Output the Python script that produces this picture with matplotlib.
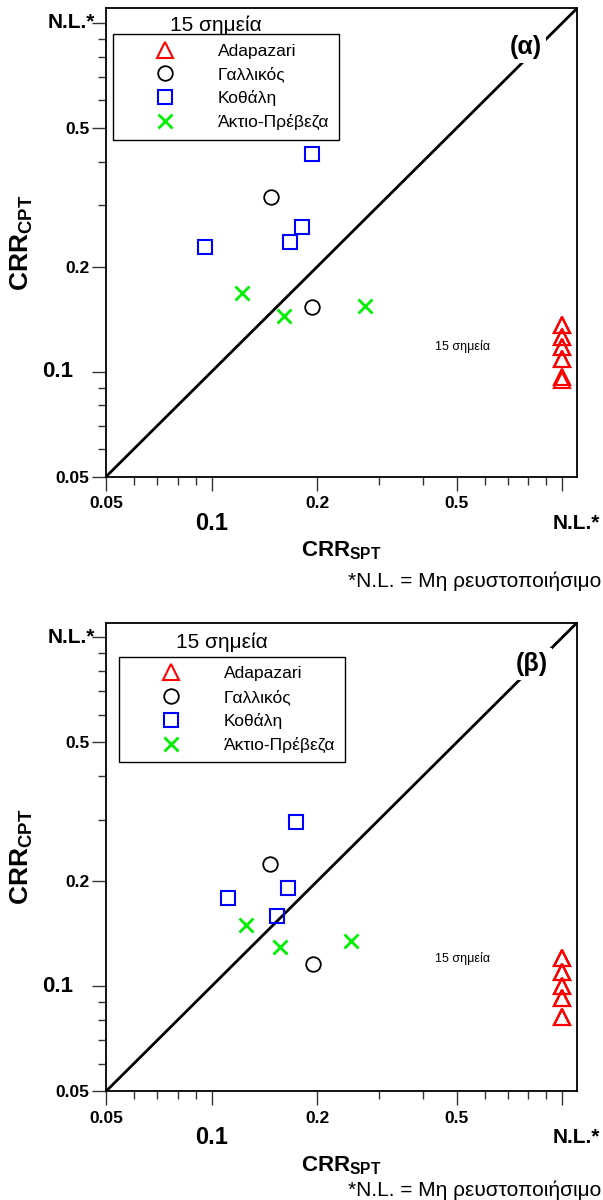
import matplotlib
matplotlib.use("Agg")
from matplotlib import pyplot as plt
from matplotlib.ticker import FixedLocator, FixedFormatter, LogLocator, NullFormatter

plt.rcParams['font.family'] = ['Liberation Sans', 'DejaVu Sans']
plt.rcParams['mathtext.fontset'] = 'custom'
plt.rcParams['mathtext.rm'] = 'Liberation Sans'
plt.rcParams['mathtext.bf'] = 'Liberation Sans:bold'

# N.L. (non liquefiable) is plotted at 1.0
NL = 1.0
ticks = [0.05, 0.1, 0.2, 0.5, NL]
tick_labels = ["0.05", "", "0.2", "0.5", ""]
names = ["Adapazari", "Γαλλικός", "Κοθάλη", "Άκτιο-Πρέβεζα"]

# panel (α)
adapazari_a_spt = [NL] * 15
adapazari_a_cpt = [0.136, 0.136, 0.136, 0.126, 0.126, 0.126, 0.118, 0.118,
                   0.118, 0.1085, 0.1085, 0.1085, 0.0964, 0.0964, 0.0946]
gallikos_a_spt = [0.148, 0.193]
gallikos_a_cpt = [0.316, 0.153]
kothali_a_spt = [0.193, 0.0958, 0.167, 0.181]
kothali_a_cpt = [0.42, 0.228, 0.235, 0.260]
aktio_a_spt = [0.122, 0.161, 0.274]
aktio_a_cpt = [0.168, 0.1446, 0.154]

# panel (β)
adapazari_b_spt = [NL] * 15
adapazari_b_cpt = [0.1203, 0.1203, 0.1203, 0.110, 0.110, 0.110, 0.1004, 0.1004,
                   0.1004, 0.0924, 0.0924, 0.0924, 0.0815, 0.0815, 0.0815]
gallikos_b_spt = [0.147, 0.194]
gallikos_b_cpt = [0.2235, 0.1156]
kothali_b_spt = [0.1745, 0.1655, 0.1111, 0.1538]
kothali_b_cpt = [0.295, 0.191, 0.1786, 0.1592]
aktio_b_spt = [0.1253, 0.157, 0.25]
aktio_b_cpt = [0.1498, 0.1294, 0.135]


def draw_panel(ax, data, tag, tag_pos, leg_pos, title_pos, note_y):
    ax.set_xscale("log")
    ax.set_yscale("log")
    ax.set_xlim(0.05, 1.1)
    ax.set_ylim(0.05, 1.1)

    ax.axline((0.1, 0.1), (1.0, 1.0), color="black", lw=2, zorder=1)

    styles = [dict(marker="^", mfc="none", mec="red", ms=11, mew=1.5),
              dict(marker="o", mfc="none", mec="black", ms=10.5, mew=1.3),
              dict(marker="s", mfc="none", mec="blue", ms=10.5, mew=1.5),
              dict(marker="x", mec="#00ee00", ms=10, mew=2)]
    handles = []
    for (xs, ys), st, nm in zip(data, styles, names):
        h, = ax.plot(xs, ys, ls="none", label=nm, zorder=3, **st)
        handles.append(h)

    leg = ax.legend(handles=handles, loc="upper left", bbox_to_anchor=leg_pos,
                    borderaxespad=0, fancybox=False, edgecolor="black",
                    framealpha=1, fontsize=12.5, handlelength=4.9,
                    handletextpad=0.6, borderpad=0.55, labelspacing=0.45,
                    numpoints=1)
    leg.get_frame().set_linewidth(1)
    ax.text(title_pos[0], title_pos[1], "15 σημεία", transform=ax.transAxes,
            ha="center", va="center", fontsize=15)
    ax.text(0.52, note_y, "15 σημεία", ha="center", va="center", fontsize=9)

    ax.text(tag_pos[0], tag_pos[1], tag, transform=ax.transAxes, ha="center",
            va="center", fontsize=18, fontweight="bold", zorder=4,
            bbox=dict(facecolor="white", edgecolor="none", pad=3))

    for a in (ax.xaxis, ax.yaxis):
        a.set_major_locator(FixedLocator(ticks))
        a.set_major_formatter(FixedFormatter(tick_labels))
        a.set_minor_locator(LogLocator(base=10, subs=range(1, 10)))
        a.set_minor_formatter(NullFormatter())
    ax.tick_params(which="major", direction="out", length=10, width=1,
                   color="#333333", labelsize=12.5)
    ax.tick_params(which="minor", direction="out", length=5.5, width=1,
                   color="#333333")
    ax.tick_params(axis="x", pad=4)
    ax.tick_params(axis="y", pad=2)
    for lab in ax.get_xticklabels() + ax.get_yticklabels():
        lab.set_fontweight("bold")
    for sp in ax.spines.values():
        sp.set_linewidth(1.3)

    # special labels
    xt = ax.get_xaxis_transform()
    yt = ax.get_yaxis_transform()
    ax.annotate("0.1", xy=(0.1, 0), xycoords=xt, xytext=(0, -33.5),
                textcoords="offset points", ha="center", va="center",
                fontsize=17, fontweight="bold")
    ax.annotate("N.L.*", xy=(NL, 0), xycoords=xt, xytext=(-7, -33.5),
                textcoords="offset points", ha="left", va="center",
                fontsize=15, fontweight="bold")
    ax.annotate("0.1", xy=(0, 0.1), xycoords=yt, xytext=(-24, 0),
                textcoords="offset points", ha="right", va="center",
                fontsize=16, fontweight="bold")
    ax.annotate("N.L.*", xy=(0, NL), xycoords=yt, xytext=(-8, 0),
                textcoords="offset points", ha="right", va="center",
                fontsize=15, fontweight="bold")

    ax.text(-0.178, 0.5, r"$\mathbf{CRR_{CPT}}$", transform=ax.transAxes,
            rotation=90, ha="center", va="center", fontsize=19)
    ax.text(0.5, -0.158, r"$\mathbf{CRR_{SPT}}$", transform=ax.transAxes,
            ha="center", va="center", fontsize=16)


fig = plt.figure(figsize=(6.03, 12), dpi=100)
ax1 = fig.add_axes([0.1758, 0.60275, 0.7811, 0.3903])
ax2 = fig.add_axes([0.1758, 0.09058, 0.7811, 0.3905])

data_a = [(adapazari_a_spt, adapazari_a_cpt), (gallikos_a_spt, gallikos_a_cpt),
          (kothali_a_spt, kothali_a_cpt), (aktio_a_spt, aktio_a_cpt)]
data_b = [(adapazari_b_spt, adapazari_b_cpt), (gallikos_b_spt, gallikos_b_cpt),
          (kothali_b_spt, kothali_b_cpt), (aktio_b_spt, aktio_b_cpt)]

draw_panel(ax1, data_a, "(α)", (0.8917, 0.9174), (0.0149, 0.945), (0.2335, 0.963), 0.118)
draw_panel(ax2, data_b, "(β)", (0.9045, 0.912), (0.0276, 0.9275), (0.246, 0.959), 0.1197)

fig.text(0.997, 1 - 581 / 1200, "*N.L. = Μη ρευστοποιήσιμο", ha="right",
         va="center", fontsize=15)
fig.text(0.997, 1 - 1190 / 1200, "*N.L. = Μη ρευστοποιήσιμο", ha="right",
         va="center", fontsize=15)

fig.savefig("out.png", dpi=100)
